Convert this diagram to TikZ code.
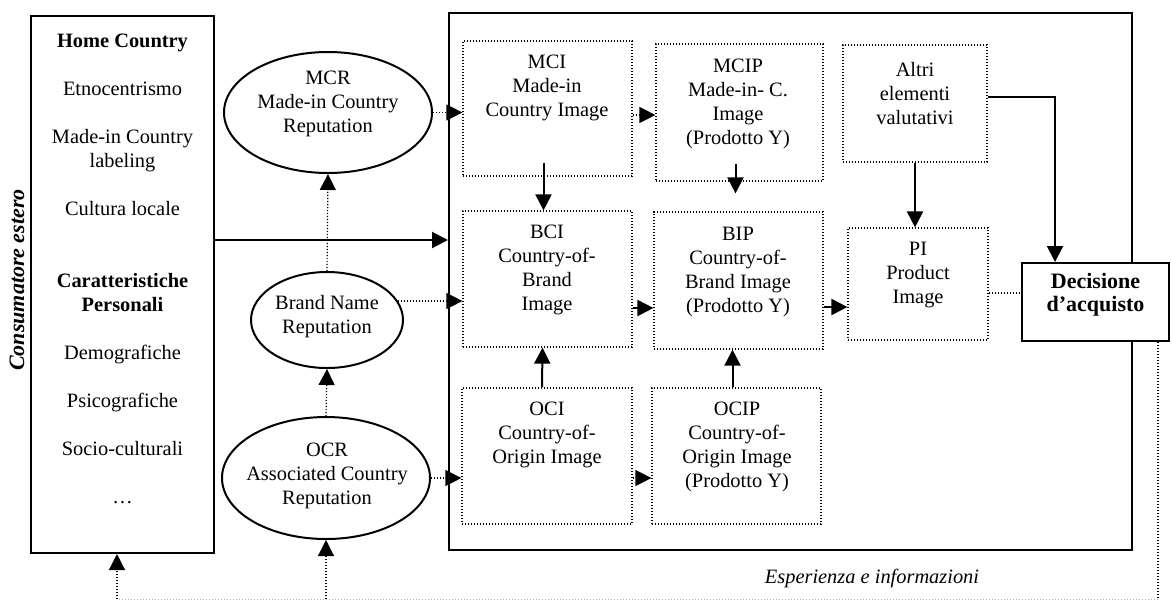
\documentclass[tikz,border=0pt]{standalone}
\usepackage{fontspec}
\setmainfont{Liberation Serif}
\usetikzlibrary{arrows.meta,fit,shapes.geometric}

\begin{document}
\begin{tikzpicture}[x=0.5pt,y=-0.5pt,
  txt/.style={align=center,inner sep=0pt,font=\fontsize{10.2}{12}\selectfont},
  sbox/.style={draw,line width=1pt,inner sep=0pt},
  dbox/.style={draw,line width=0.6pt,dash pattern=on 0.6pt off 0.9pt,inner sep=0pt},
  oval/.style={draw,ellipse,line width=1pt,inner sep=0pt},
  tip/.style={-{Triangle[length=8pt,width=8pt]}},
  sarrow/.style={line width=1pt,tip},
  dline/.style={line width=0.6pt,dash pattern=on 0.6pt off 0.9pt},
  darrow/.style={dline,tip},
  faint/.style={line width=0.5pt,black!30,dash pattern=on 0.5pt off 1pt}]

\useasboundingbox (0,0) rectangle (1171,601);

% consumer block on the left
\node[sbox,fit={(31,16) (214,553)}] (home) {};
\node[txt] (homeT) at (122.5,269) {\textbf{Home Country}\\[12pt]
  Etnocentrismo\\[12pt]
  Made-in Country\\labeling\\[12pt]
  Cultura locale\\[24pt]
  \textbf{Caratteristiche}\\\textbf{Personali}\\[12pt]
  Demografiche\\[12pt]
  Psicografiche\\[12pt]
  Socio-culturali\\[12pt]
  …};
\node[rotate=90,inner sep=0pt,font=\fontsize{11}{13}\selectfont\bfseries\itshape] (cons) at (17,280) {Consumatore estero};

% reputations
\node[oval,minimum width=104pt,minimum height=60.5pt] (mcr) at (328,112.5) {};
\node[txt] (mcrT) at (328,104) {MCR\\Made-in Country\\Reputation};
\node[oval,minimum width=76pt,minimum height=48pt] (brand) at (327,320) {};
\node[txt] (brandT) at (327,317) {Brand Name\\Reputation};
\node[oval,minimum width=104pt,minimum height=61pt] (ocr) at (326,478) {};
\node[txt] (ocrT) at (327,476) {OCR\\Associated Country\\Reputation};

% image formation frame
\node[sbox,fit={(449,13) (1132,550)}] (big) {};
\node[dbox,fit={(463,41) (632,176)}] (mci) {};
\node[txt] (mciT) at (547,87.5) {MCI\\Made-in\\Country Image};
\node[dbox,fit={(656,44) (823,181)}] (mcip) {};
\node[txt] (mcipT) at (738,104) {MCIP\\Made-in- C.\\Image\\(Prodotto Y)};
\node[dbox,fit={(843,45) (987,162)}] (altri) {};
\node[txt] (altriT) at (915,94) {Altri\\elementi\\valutativi};
\node[dbox,fit={(463,211) (632,347)}] (bci) {};
\node[txt] (bciT) at (547,270) {BCI\\Country-of-\\Brand\\Image};
\node[dbox,fit={(654,212) (823,349)}] (bip) {};
\node[txt] (bipT) at (738,272) {BIP\\Country-of-\\Brand Image\\(Prodotto Y)};
\node[dbox,fit={(848,228) (988,340)}] (pi) {};
\node[txt] (piT) at (918,275) {PI\\Product\\Image};
\node[dbox,fit={(462,388) (632,524)}] (oci) {};
\node[txt] (ociT) at (547,435) {OCI\\Country-of-\\Origin Image};
\node[dbox,fit={(652,388) (821,524)}] (ocip) {};
\node[txt] (ocipT) at (737,447) {OCIP\\Country-of-\\Origin Image\\(Prodotto Y)};

% purchase decision
\node[sbox,fill=white,fit={(1022,263) (1169,341)},align=center,
      font=\fontsize{11}{11.5}\selectfont\bfseries] (dec) {Decisione\\d’acquisto};

\node[inner sep=0pt,font=\fontsize{10.2}{12}\selectfont\itshape] (esp) at (872,578) {Esperienza e informazioni};

% connectors
\draw[sarrow] (home.east |- 0,240) -- (big.west |- 0,240);
\draw[darrow] (mcr.east) -- (mci.west |- mcr.east);
\draw[darrow] (mci.east |- 0,115) -- (mcip.west |- 0,115);
\draw[sarrow] ([xshift=-2pt,yshift=7pt]mci.south) -- ([xshift=-2pt]bci.north);
\draw[sarrow] ([xshift=-2pt,yshift=9pt]mcip.south) -- ([xshift=-2pt,yshift=9pt]mcip.south |- bip.north);
\draw[sarrow] (altri.south) -- (altri.south |- pi.north);
\coordinate (jn) at (1055,97);
\draw[sarrow] (altri.east |- jn) -- (jn) -- (jn |- dec.north);
\draw[sarrow] (bci.east |- 0,308) -- (bip.west |- 0,308);
\draw[sarrow] (bip.east |- 0,307) -- (pi.west |- 0,307);
\draw[darrow] (brand.15) -- (bci.west |- brand.15);
\draw[sarrow] ([xshift=-2.5pt]oci.north) -- ([xshift=-2.5pt]bci.south);
\draw[sarrow] ([xshift=-2pt]ocip.north) -- ([xshift=-2pt]ocip.north |- bip.south);
\draw[darrow] (ocr.east) -- (oci.west |- ocr.east);
\draw[darrow] (oci.east |- 0,478) -- (ocip.west |- 0,478);
\draw[dline] (pi.east |- 0,293) -- (dec.west |- 0,293);
\draw[darrow] (ocr.north) -- (brand.south);
\draw[darrow] (brand.north) -- (mcr.south);

% feedback loop
\coordinate (fbR) at (1158,599);
\coordinate (fbM) at (326,599);
\coordinate (fbL) at (117,599);
\draw[dline] (dec.south -| fbR) -- (fbR);
\draw[faint] (fbR) -- (fbL);
\draw[darrow] (fbL) -- (fbL |- home.south);
\draw[darrow] (fbM) -- (fbM |- ocr.south);
\end{tikzpicture}
\end{document}
